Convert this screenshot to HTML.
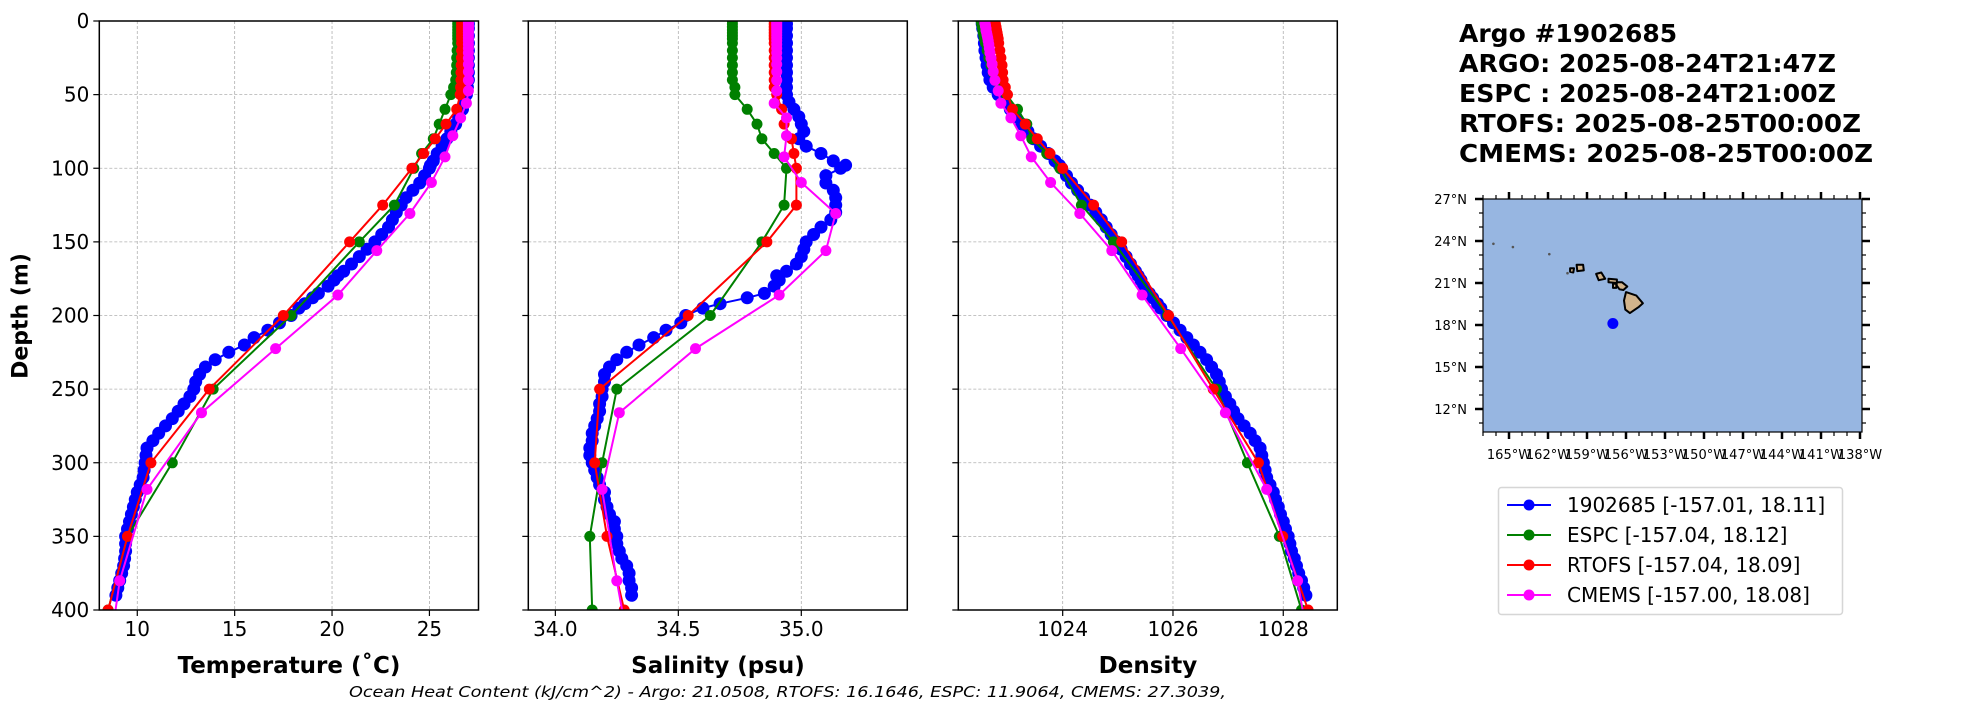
<!DOCTYPE html>
<html><head><meta charset="utf-8">
<style>
html,body{margin:0;padding:0;background:#fff;}
svg{display:block;font-family:"DejaVu Sans","Liberation Sans",sans-serif;}
</style></head>
<body>
<svg id="fig" width="1967" height="712" viewBox="0 0 1967 712" xmlns="http://www.w3.org/2000/svg">
  <rect width="1967" height="712" fill="#fff"/>
  <g id="panels"></g>
  <text x="21" y="316" transform="rotate(-90 21 316)" text-anchor="middle" dominant-baseline="central" font-size="22" font-weight="bold">Depth (m)</text>
  <text x="289" y="666" text-anchor="middle" dominant-baseline="central" font-size="23" font-weight="bold">Temperature (˚C)</text>
  <text x="718" y="666" text-anchor="middle" dominant-baseline="central" font-size="23" font-weight="bold">Salinity (psu)</text>
  <text x="1148" y="666" text-anchor="middle" dominant-baseline="central" font-size="23" font-weight="bold">Density</text>
  <text x="349" y="697" font-size="15" font-style="italic" textLength="877" lengthAdjust="spacingAndGlyphs">Ocean Heat Content (kJ/cm^2) - Argo: 21.0508,  RTOFS: 16.1646,  ESPC: 11.9064,  CMEMS: 27.3039,</text>
  <g font-size="25" font-weight="bold">
    <text x="1459" y="42">Argo #1902685</text>
    <text x="1459" y="72" textLength="377" lengthAdjust="spacingAndGlyphs">ARGO: 2025-08-24T21:47Z</text>
    <text x="1459" y="102" textLength="377" lengthAdjust="spacingAndGlyphs">ESPC : 2025-08-24T21:00Z</text>
    <text x="1459" y="132" textLength="402" lengthAdjust="spacingAndGlyphs">RTOFS: 2025-08-25T00:00Z</text>
    <text x="1459" y="162" textLength="414" lengthAdjust="spacingAndGlyphs">CMEMS: 2025-08-25T00:00Z</text>
  </g>
  <g id="map"></g>
  <g id="legend">
    <rect x="1498.5" y="487.5" width="344" height="127" rx="3" fill="#fff" stroke="#d6d6d6" stroke-width="1.5"/>
  </g>
</svg>
<script>
// ---- data ----
const argoDepth = [2,5,10,15,20,25,30,35,40,45,50,55,60,65,70,75,80,85,90,95,98,100,105,110,115,120,125,130,135,140,145,150,155,160,165,170,173,176,180,185,188,192,195,200,205,210,215,220,225,230,235,240,245,250,255,260,265,270,275,280,285,290,295,300,305,310,315,320,325,330,335,340,345,350,355,360,365,370,375,380,385,390];
const argoTemp = [27.0,27.0,27.0,27.0,27.0,27.0,27.0,27.0,27.0,26.95,26.9,26.8,26.7,26.5,26.35,26.1,25.9,25.65,25.4,25.2,25.05,25.0,24.75,24.5,24.15,23.8,23.55,23.3,23.1,22.9,22.55,22.2,21.8,21.4,21.0,20.6,20.3,20.1,19.8,19.3,19.0,18.6,18.3,17.9,17.3,16.7,16.0,15.5,14.7,14.0,13.5,13.2,13.0,12.9,12.7,12.4,12.1,11.8,11.45,11.1,10.8,10.5,10.45,10.4,10.35,10.3,10.15,10.0,9.9,9.8,9.7,9.6,9.5,9.4,9.4,9.4,9.35,9.3,9.2,9.1,9.0,8.9];
const argoSal = [34.94,34.94,34.94,34.94,34.94,34.94,34.94,34.94,34.94,34.94,34.94,34.95,34.97,34.99,35.00,35.01,34.99,35.02,35.08,35.13,35.18,35.16,35.10,35.10,35.13,35.14,35.14,35.14,35.12,35.08,35.05,35.02,35.01,35.00,34.98,34.94,34.90,34.91,34.89,34.85,34.78,34.67,34.60,34.53,34.51,34.45,34.40,34.34,34.29,34.25,34.22,34.20,34.20,34.19,34.19,34.18,34.18,34.17,34.16,34.15,34.15,34.14,34.14,34.15,34.16,34.17,34.18,34.20,34.20,34.21,34.22,34.24,34.24,34.25,34.25,34.26,34.27,34.29,34.30,34.30,34.31,34.31];
const argoDens = [1022.54,1022.55,1022.57,1022.58,1022.59,1022.61,1022.63,1022.65,1022.68,1022.74,1022.83,1022.94,1023.05,1023.15,1023.26,1023.37,1023.47,1023.6,1023.74,1023.86,1023.94,1023.98,1024.07,1024.16,1024.27,1024.38,1024.5,1024.6,1024.7,1024.79,1024.88,1024.98,1025.06,1025.15,1025.23,1025.32,1025.37,1025.42,1025.47,1025.57,1025.63,1025.72,1025.78,1025.89,1026.01,1026.13,1026.25,1026.37,1026.49,1026.61,1026.7,1026.79,1026.84,1026.88,1026.95,1027.03,1027.1,1027.18,1027.29,1027.4,1027.49,1027.58,1027.61,1027.64,1027.67,1027.7,1027.76,1027.82,1027.86,1027.91,1027.95,1028.0,1028.04,1028.09,1028.12,1028.15,1028.2,1028.24,1028.28,1028.33,1028.37,1028.41];

const espcDepth = [0,2,4,6,8,10,12,15,20,25,30,35,40,45,50,60,70,80,90,100,125,150,200,250,300,350,400];
const espcTemp = [26.45,26.45,26.45,26.45,26.45,26.45,26.45,26.45,26.42,26.4,26.4,26.38,26.35,26.24,26.1,25.8,25.5,25.2,24.6,24.2,23.2,21.4,17.9,13.9,11.8,9.5,8.5];
const espcSal = [34.72,34.72,34.72,34.72,34.72,34.72,34.72,34.72,34.72,34.72,34.72,34.72,34.72,34.73,34.73,34.78,34.82,34.84,34.89,34.94,34.93,34.84,34.63,34.25,34.19,34.14,34.15];
const espcDens = [1022.52,1022.53,1022.54,1022.55,1022.56,1022.57,1022.58,1022.6,1022.63,1022.66,1022.7,1022.74,1022.78,1022.86,1022.98,1023.18,1023.35,1023.44,1023.71,1023.95,1024.34,1024.92,1025.9,1026.79,1027.35,1027.93,1028.33];

const rtofsDepth = [0,2,4,6,8,10,12,15,20,25,30,35,40,45,50,60,70,80,90,100,125,150,200,250,300,350,400];
const rtofsTemp = [26.65,26.65,26.65,26.65,26.65,26.65,26.65,26.65,26.65,26.64,26.63,26.62,26.62,26.6,26.58,26.4,25.85,25.3,24.7,24.1,22.6,20.9,17.5,13.7,10.7,9.5,8.5];
const rtofsSal = [34.89,34.89,34.89,34.89,34.89,34.89,34.89,34.89,34.89,34.89,34.89,34.89,34.89,34.89,34.9,34.92,34.93,34.96,34.97,34.98,34.98,34.86,34.54,34.18,34.16,34.21,34.28];
const rtofsDens = [1022.77,1022.78,1022.79,1022.8,1022.81,1022.82,1022.83,1022.84,1022.86,1022.88,1022.9,1022.91,1022.92,1022.96,1023.0,1023.09,1023.32,1023.54,1023.77,1024.0,1024.56,1025.07,1025.92,1026.73,1027.55,1027.99,1028.45];

const cmemsDepth = [0.5,1.5,2.6,3.8,5.1,6.4,7.9,9.6,11.4,13.5,15.8,18.5,21.6,25.2,29.4,34.4,40.3,47.4,55.8,65.8,77.9,92.3,109.7,130.7,155.9,186.1,222.5,266.0,318.1,380.2,453.9];
const cmemsTemp = [27.0,27.0,27.0,27.0,27.0,27.0,27.0,27.0,27.0,27.0,27.0,27.0,27.0,27.0,27.0,27.0,27.0,27.0,26.9,26.6,26.2,25.8,25.1,24.0,22.3,20.3,17.1,13.3,10.5,9.1,8.3];
const cmemsSal = [34.9,34.9,34.9,34.9,34.9,34.9,34.9,34.9,34.9,34.9,34.9,34.9,34.9,34.9,34.9,34.9,34.9,34.9,34.89,34.94,34.94,34.93,35.0,35.14,35.1,34.91,34.57,34.26,34.19,34.25,34.33];
const cmemsDens = [1022.59,1022.59,1022.6,1022.6,1022.61,1022.61,1022.62,1022.63,1022.64,1022.65,1022.66,1022.67,1022.68,1022.7,1022.72,1022.74,1022.77,1022.83,1022.88,1023.06,1023.24,1023.43,1023.78,1024.31,1024.89,1025.44,1026.14,1026.95,1027.7,1028.26,1028.6];

const depthTicks = [0,50,100,150,200,250,300,350,400];
const tempTicks = [10,15,20,25];
const salTicks = ['34.0','34.5','35.0'];
const densTicks = [1024,1026,1028];

const seriesNames = ['1902685 [-157.01, 18.11]','ESPC [-157.04, 18.12]','RTOFS [-157.04, 18.09]','CMEMS [-157.00, 18.08]'];
const argoLon = [-157.01];
const argoLat = [18.11];

// ---- drawing ----
const NS = 'http://www.w3.org/2000/svg';
function mk(tag, attrs, parent){const e=document.createElementNS(NS,tag);for(const k in attrs)e.setAttribute(k,attrs[k]);if(parent)parent.appendChild(e);return e;}
const TOP=21, BOT=610;
const yScale = d => TOP + d/400*(BOT-TOP);
const colors = ['#0000ff','#008000','#ff0000','#ff00ff'];

function panel(id, x0, x1, xmin, xmax, ticks, showY, sets){
  const root=document.getElementById('panels');
  const g=mk('g',{},root);
  
  
  const xs = v => x0 + (v-xmin)/(xmax-xmin)*(x1-x0);
  const clipId='clip-'+id;
  const cp=mk('clipPath',{id:clipId},g); mk('rect',{x:x0,y:TOP,width:x1-x0,height:BOT-TOP},cp);
  ticks.forEach(t=>{const x=xs(+t);
    const l=mk('line',{x1:x,x2:x,y1:TOP,y2:BOT,stroke:'#b0b0b0','stroke-width':0.8,'stroke-dasharray':'3,2'},g);
    
    
    const tk=mk('line',{x1:x,x2:x,y1:BOT,y2:BOT+6,stroke:'#000','stroke-width':1.2},g);
    
    
    const tx=mk('text',{x:x,y:BOT+26,'text-anchor':'middle','font-size':20},g); tx.textContent=t;
    
    
  });
  depthTicks.forEach(d=>{const y=yScale(d);
    const l=mk('line',{x1:x0,x2:x1,y1:y,y2:y,stroke:'#b0b0b0','stroke-width':0.8,'stroke-dasharray':'3,2'},g);
    
    
    const tk=mk('line',{x1:x0-6,x2:x0,y1:y,y2:y,stroke:'#000','stroke-width':1.2},g);
    
    
    if(showY){const tx=mk('text',{x:x0-10,y:y+7,'text-anchor':'end','font-size':20},g); tx.textContent=d;
      
      }
  });
  const dg=mk('g',{'clip-path':'url(#'+clipId+')'},g);
  sets.forEach((s,i)=>{
    const pts=s.vals.map((v,j)=>xs(v).toFixed(1)+','+yScale(s.depth[j]).toFixed(1)).join(' ');
    const pl=mk('polyline',{points:pts,fill:'none',stroke:colors[i],'stroke-width':2},dg);
    
    
    s.vals.forEach((v,j)=>{
      const c=mk('circle',{cx:xs(v).toFixed(1),cy:yScale(s.depth[j]).toFixed(1),r:i===0?6.5:5.5,fill:colors[i]},dg);
      
      
    });
  });
  const fr=mk('rect',{x:x0,y:TOP,width:x1-x0,height:BOT-TOP,fill:'none',stroke:'#000','stroke-width':1.5},g);
  
  
}

panel('temperature',99.3,478.5,8.05,27.52,tempTicks,true,[
  {name:'argo',depth:argoDepth,vals:argoTemp},{name:'espc',depth:espcDepth,vals:espcTemp},
  {name:'rtofs',depth:rtofsDepth,vals:rtofsTemp},{name:'cmems',depth:cmemsDepth,vals:cmemsTemp}]);
panel('salinity',528.3,907.3,33.89,35.431,salTicks,false,[
  {name:'argo',depth:argoDepth,vals:argoSal},{name:'espc',depth:espcDepth,vals:espcSal},
  {name:'rtofs',depth:rtofsDepth,vals:rtofsSal},{name:'cmems',depth:cmemsDepth,vals:cmemsSal}]);
panel('density',958.3,1337.3,1022.107,1028.98,densTicks,false,[
  {name:'argo',depth:argoDepth,vals:argoDens},{name:'espc',depth:espcDepth,vals:espcDens},
  {name:'rtofs',depth:rtofsDepth,vals:rtofsDens},{name:'cmems',depth:cmemsDepth,vals:cmemsDens}]);

// ---- map ----
(function(){
  const m=document.getElementById('map');
  const L=1483,R=1862,T=199,B=432;
  const lx = lon => 1509 + (lon+165)*13;
  const ly = lat => 199 + (27-lat)*14;
  const bg=mk('rect',{x:L,y:T,width:R-L,height:B-T,fill:'#97b6e1'},m);
  
  
  const islands=[
    [[-156.0,20.35],[-155.2,20.1],[-154.7,19.55],[-155.0,19.3],[-155.7,18.85],[-156.05,19.1],[-156.15,19.75]],
    [[-156.75,21.05],[-156.3,21.05],[-155.9,20.75],[-156.2,20.5],[-156.5,20.55],[-156.7,20.8]],
    [[-157.35,21.3],[-156.7,21.25],[-156.7,21.0],[-157.35,21.05]],
    [[-157.0,20.95],[-156.75,20.95],[-156.75,20.65],[-157.0,20.65]],
    [[-158.3,21.65],[-157.9,21.75],[-157.6,21.3],[-158.1,21.2]],
    [[-159.8,22.3],[-159.3,22.3],[-159.25,21.9],[-159.75,21.85]],
    [[-160.3,22.05],[-160.0,22.05],[-160.05,21.75],[-160.3,21.8]]
  ];
  islands.forEach(p=>{
    const pg=mk('polygon',{points:p.map(q=>lx(q[0]).toFixed(1)+','+ly(q[1]).toFixed(1)).join(' '),fill:'#d2b48c',stroke:'#000','stroke-width':2,'stroke-linejoin':'round'},m);
    
    
  });
  [[-166.2,23.8],[-164.7,23.57],[-161.9,23.06],[-160.5,21.7]].forEach(q=>{
    const d=mk('circle',{cx:lx(q[0]),cy:ly(q[1]),r:1.3,fill:'#555'},m);
    
    
  });
  const dot=mk('circle',{cx:lx(argoLon[0]),cy:ly(argoLat[0]),r:5.5,fill:'#0000ff'},m);
  
  
  const fr=mk('rect',{x:L,y:T,width:R-L,height:B-T,fill:'none',stroke:'#000','stroke-width':1.2},m);
  
  
  for(let lon=-167;lon<=-138;lon++){
    const x=lx(lon); const major=(lon+165)%3===0;
    if(x<L-0.5||x>R+0.5) continue;
    const len=major?7:4, w=major?2.5:1.2;
    mk('line',{x1:x,x2:x,y1:T-len,y2:T,stroke:'#000','stroke-width':w},m);
    mk('line',{x1:x,x2:x,y1:B,y2:B+len,stroke:'#000','stroke-width':w},m);
    if(major){const t=mk('text',{x:x,y:B+27,'text-anchor':'middle','font-size':13},m);t.textContent=(-lon)+'°W';
      
      }
  }
  for(let lat=11;lat<=27;lat++){
    const y=ly(lat); const major=lat%3===0;
    const len=major?8:4, w=major?2.5:1.2;
    mk('line',{x1:L-len,x2:L,y1:y,y2:y,stroke:'#000','stroke-width':w},m);
    mk('line',{x1:R,x2:R+len,y1:y,y2:y,stroke:'#000','stroke-width':w},m);
    if(major){const t=mk('text',{x:1467,y:y+5,'text-anchor':'end','font-size':13},m);t.textContent=lat+'°N';
      
      }
  }
})();

// ---- legend ----
(function(){
  const lg=document.getElementById('legend');
  const rowsY=[505,535,565,595];
  seriesNames.forEach((n,i)=>{
    const g=mk('g',{},lg);
    
    
    mk('line',{x1:1507,x2:1551,y1:rowsY[i],y2:rowsY[i],stroke:colors[i],'stroke-width':2},g);
    mk('circle',{cx:1529,cy:rowsY[i],r:5.5,fill:colors[i]},g);
    const t=mk('text',{x:1567,y:rowsY[i]+7,'font-size':20},g); t.textContent=n;
  });
})();
</script>
</body></html>
